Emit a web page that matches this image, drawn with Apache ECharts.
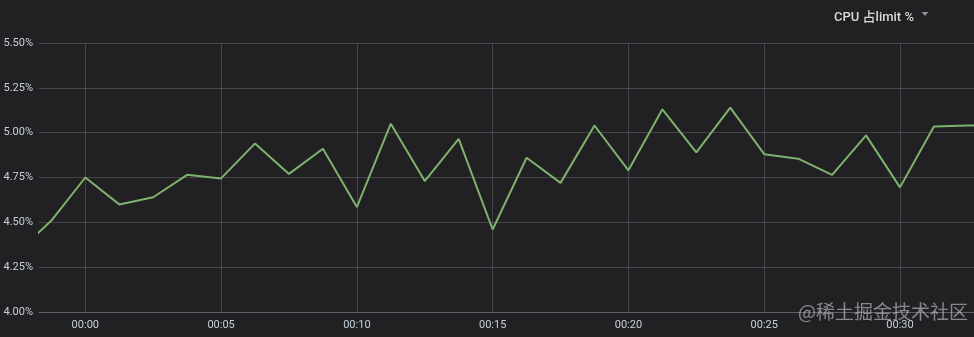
<!DOCTYPE html>
<html>
<head>
<meta charset="utf-8">
<script src="https://cdn.jsdelivr.net/npm/echarts@6/dist/echarts.min.js"></script>
<style>
html,body{margin:0;padding:0;background:#212124;}
#chart{width:974px;height:337px;}
</style>
</head>
<body>
<div id="chart"></div>
<script>
// minutes relative to 00:00
var minutes = [-2.5, -1.25, 0, 1.25, 2.5, 3.75, 5, 6.25, 7.5, 8.75, 10, 11.25, 12.5, 13.75, 15, 16.25, 17.5, 18.75, 20, 21.25, 22.5, 23.75, 25, 26.25, 27.5, 28.75, 30, 31.25, 32.5, 33.75];
var cpuPct = [4.33, 4.51, 4.75, 4.60, 4.64, 4.765, 4.745, 4.94, 4.77, 4.91, 4.585, 5.05, 4.73, 4.965, 4.46, 4.86, 4.72, 5.04, 4.79, 5.13, 4.89, 5.14, 4.88, 4.855, 4.765, 4.985, 4.695, 5.035, 5.04, 5.04];
var xTickMinutes = [0, 5, 10, 15, 20, 25, 30];
var seriesName = 'CPU 占limit %';
var yMin = 4.0, yMax = 5.5, yStep = 0.25;
var xStartMin = -1.705, xEndMin = 32.725;

var data = minutes.map(function (m, i) { return [m, cpuPct[i]]; });

var chart = echarts.init(document.getElementById('chart'), null, {renderer: 'canvas'});
var gridColor = 'rgba(204,204,220,0.2)';
var labelColor = '#c7d0d9';
function fmtTime(v) {
  var h = Math.floor(v / 60), m = Math.round(v - h * 60);
  return ('0' + h).slice(-2) + ':' + ('0' + m).slice(-2);
}
chart.setOption({
  backgroundColor: '#212124',
  animation: false,
  title: {
    text: seriesName,
    right: 55,
    top: 6,
    textStyle: {color: '#d8d9da', fontSize: 13, fontWeight: 500, fontFamily: 'Roboto, "Noto Sans CJK SC", sans-serif'}
  },
  graphic: [
    {type: 'polygon', shape: {points: [[921.5, 12], [928.5, 12], [925, 16]]}, style: {fill: '#8e8e96'}},
    {type: 'text', left: 798, top: 302, style: {text: '@稀土掘金技术社区', fill: 'rgba(205,205,210,0.6)', font: '19px "Noto Sans CJK SC", sans-serif', shadowColor: 'rgba(0,0,0,0.6)', shadowBlur: 2, shadowOffsetX: 1, shadowOffsetY: 1}, z: 100}
  ],
  grid: {left: 39, right: 0, top: 43, bottom: 25, containLabel: false},
  xAxis: {
    type: 'value',
    min: xStartMin,
    max: xEndMin,
    axisLine: {show: true, onZero: false, lineStyle: {color: gridColor}},
    axisTick: {show: false, customValues: xTickMinutes},
    splitLine: {show: true, lineStyle: {color: gridColor, width: 1}},
    axisLabel: {
      color: labelColor, fontSize: 11, fontFamily: 'Roboto, sans-serif', margin: 8,
      customValues: xTickMinutes,
      formatter: fmtTime
    }
  },
  yAxis: {
    type: 'value',
    min: yMin, max: yMax, interval: yStep,
    axisLine: {show: false},
    axisTick: {show: false},
    splitLine: {show: true, lineStyle: {color: gridColor, width: 1}},
    axisLabel: {
      color: labelColor, fontSize: 11, fontFamily: 'Roboto, sans-serif', margin: 6,
      formatter: function (v) { return v.toFixed(2) + '%'; }
    }
  },
  series: [{
    name: seriesName,
    type: 'line',
    data: data,
    showSymbol: false,
    symbol: 'none',
    clip: true,
    lineStyle: {color: '#7eb26d', width: 2},
    itemStyle: {color: '#7eb26d'}
  }]
});
</script>
</body>
</html>
